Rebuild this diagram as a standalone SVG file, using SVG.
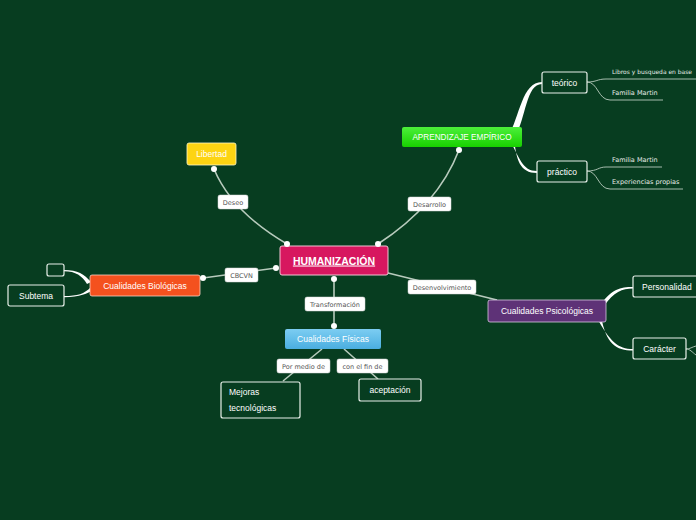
<svg xmlns="http://www.w3.org/2000/svg" width="696" height="520" viewBox="0 0 696 520">
<style>
.lbl rect{fill:#fff;stroke:#d8d8d8;stroke-width:0.5}
.lbl text{font-family:"DejaVu Sans",sans-serif;font-size:6.5px;fill:#555;text-anchor:middle}
.ntxt{font-family:"Liberation Sans",sans-serif;font-size:8.5px;fill:#fff;text-anchor:middle}
.stxt{font-family:"Liberation Sans",sans-serif;font-size:8.5px;fill:#fff;text-anchor:start}
.out{fill:#073d20;stroke:#e8f0ea;stroke-width:1.2}
.conn{fill:none;stroke:#b8cbbd;stroke-width:1.6}
.thin{fill:none;stroke:#b8cbbd;stroke-width:0.9}
.tap{fill:#ffffff}
.dot{fill:#fff}
.small{font-family:"DejaVu Sans",sans-serif;font-size:6.5px;fill:#e6ece7}
</style>
<defs>
<linearGradient id="gG" x1="0" y1="0" x2="0" y2="1"><stop offset="0" stop-color="#4cf03a"/><stop offset="1" stop-color="#18d000"/></linearGradient>
<linearGradient id="gB" x1="0" y1="0" x2="0" y2="1"><stop offset="0" stop-color="#7ccdf2"/><stop offset="1" stop-color="#4aaee0"/></linearGradient>
</defs>
<rect width="696" height="520" fill="#073d20"/>
<g id="connectors">
<path class="conn" d="M214 169 Q232 212 287 244"/>
<path class="conn" d="M378 244 Q438 205 459 150"/>
<path class="conn" d="M203 278 L276 268"/>
<path class="conn" d="M334 279 L334 326"/>
<path class="conn" d="M388 273 L497 300"/>
<path class="conn" d="M322 349 L283 381"/>
<path class="conn" d="M344 349 L378 379"/>
<path class="tap" d="M508 137 C520 116 522 82 542 82 L542 84 C526 84 526 118 515 137 Z"/>
<path class="tap" d="M508 137 C520 158 522 171 537 171 L537 173 C520 173 516 160 514 137 Z"/>
<path class="tap" d="M91 282 C84 274 78 270 64 270 L64 271.3 C76 271.3 82 276 87 284 Z"/>
<path class="tap" d="M91 287 C84 294 78 296 64 296 L64 297.3 C80 297.3 88 293 93 290 Z"/>
<path class="tap" d="M600 305 C612 289 620 287 633 287 L633 288.5 C622 288.5 614 292 604 306 Z"/>
<path class="tap" d="M596 316 C610 342 618 349 633 349 L633 350.5 C616 350.5 606 344 601 316 Z"/>
<path class="thin" d="M587 82 C597 82 597 79 606 79 L696 79"/>
<path class="thin" d="M587 82 C598 82 598 100 610 100 L663 100"/>
<path class="thin" d="M587 171 C598 171 598 167 606 167 L662 167"/>
<path class="thin" d="M587 171 C598 171 598 189 610 189 L683 189"/>
<path class="thin" d="M686 349 C690 349 692 347 696 346"/>
<path class="thin" d="M686 349 C690 349 692 352 696 355"/>
</g>
<g id="lbl-deseo" class="lbl"><rect x="218" y="195" width="30" height="14" rx="2"/><text x="233" y="204.5">Deseo</text></g>
<g id="lbl-desarrollo" class="lbl"><rect x="408" y="197" width="43" height="14" rx="2"/><text x="429.5" y="206.5">Desarrollo</text></g>
<g id="lbl-cbcvn" class="lbl"><rect x="225" y="268" width="33" height="14" rx="2"/><text x="241.5" y="277.5">CBCVN</text></g>
<g id="lbl-transf" class="lbl"><rect x="305" y="297" width="60" height="14" rx="2"/><text x="335" y="306.5">Transformación</text></g>
<g id="lbl-desenv" class="lbl"><rect x="408" y="280" width="68" height="14" rx="2"/><text x="442" y="289.5">Desenvolvimiento</text></g>
<g id="lbl-medio" class="lbl"><rect x="277" y="359" width="53" height="14" rx="2"/><text x="303.5" y="368.5">Por medio de</text></g>
<g id="lbl-fin" class="lbl"><rect x="337" y="359" width="51" height="14" rx="2"/><text x="362.5" y="368.5">con el fin de</text></g>
<g id="n-human"><rect x="280" y="246" width="108" height="29" rx="2" fill="#d7175f" stroke="#f3c4d4" stroke-width="1"/><text class="ntxt" x="334" y="264.5" style="font-size:10.5px;font-weight:bold" text-decoration="underline">HUMANIZACIÓN</text></g>
<g id="n-libertad"><rect x="187" y="143" width="49" height="22" rx="2" fill="#fdd412" stroke="#fff7c8" stroke-width="0.8"/><text class="ntxt" x="211.5" y="157">Libertad</text></g>
<g id="n-aprend"><rect x="402" y="127" width="120" height="20" rx="2" fill="url(#gG)"/><text class="ntxt" x="462" y="140" style="font-size:8.2px">APRENDIZAJE EMPÍRICO</text></g>
<g id="n-teorico"><rect class="out" x="542" y="72" width="45" height="21" rx="2"/><text class="ntxt" x="564.5" y="85.5">teórico</text></g>
<g id="n-practico"><rect class="out" x="537" y="161" width="50" height="21" rx="2"/><text class="ntxt" x="562" y="174.5">práctico</text></g>
<g id="t-libros"><text class="small" x="612" y="74" style="font-size:6px" textLength="80" lengthAdjust="spacingAndGlyphs">Libros y busqueda en base</text></g>
<g id="t-fam1"><text class="small" x="612" y="95">Familia Martin</text></g>
<g id="t-fam2"><text class="small" x="612" y="162">Familia Martin</text></g>
<g id="t-exp"><text class="small" x="612" y="184">Experiencias propias</text></g>
<g id="n-bio"><rect x="90" y="275" width="110" height="21" rx="2" fill="#f4511e" stroke="#fbd0c0" stroke-width="0.8"/><text class="ntxt" x="145" y="288.5">Cualidades Biológicas</text></g>
<g id="n-empty"><rect class="out" x="47" y="264" width="17" height="12" rx="2"/></g>
<g id="n-subtema"><rect class="out" x="8" y="285" width="56" height="21" rx="2"/><text class="ntxt" x="36" y="298.5">Subtema</text></g>
<g id="n-fisicas"><rect x="285" y="329" width="96" height="20" rx="2" fill="url(#gB)"/><text class="ntxt" x="333" y="342">Cualidades Físicas</text></g>
<g id="n-mejoras"><rect class="out" x="221" y="382" width="79" height="36" rx="2"/><text class="stxt" x="229" y="395">Mejoras</text><text class="stxt" x="229" y="411">tecnológicas</text></g>
<g id="n-acept"><rect class="out" x="359" y="379" width="62" height="22" rx="2"/><text class="ntxt" x="390" y="393">aceptación</text></g>
<g id="n-psico"><rect x="488" y="300" width="118" height="22" rx="2" fill="#5e3277" stroke="#d9c8e2" stroke-width="0.8"/><text class="ntxt" x="547" y="314">Cualidades Psicológicas</text></g>
<g id="n-person"><rect class="out" x="633" y="276" width="70" height="21" rx="2"/><text class="stxt" x="642" y="289.5">Personalidad</text></g>
<g id="n-caracter"><rect class="out" x="633" y="338" width="53" height="21" rx="2"/><text class="ntxt" x="659.5" y="351.5">Carácter</text></g>
<g id="dots">
<circle class="dot" cx="287" cy="244" r="3"/><circle class="dot" cx="378" cy="244" r="3"/>
<circle class="dot" cx="276" cy="268" r="3"/><circle class="dot" cx="334" cy="279" r="3"/>
<circle class="dot" cx="214" cy="169" r="3"/><circle class="dot" cx="459" cy="150" r="3"/>
<circle class="dot" cx="203" cy="278" r="3"/><circle class="dot" cx="334" cy="326" r="3"/>
</g>
</svg>
